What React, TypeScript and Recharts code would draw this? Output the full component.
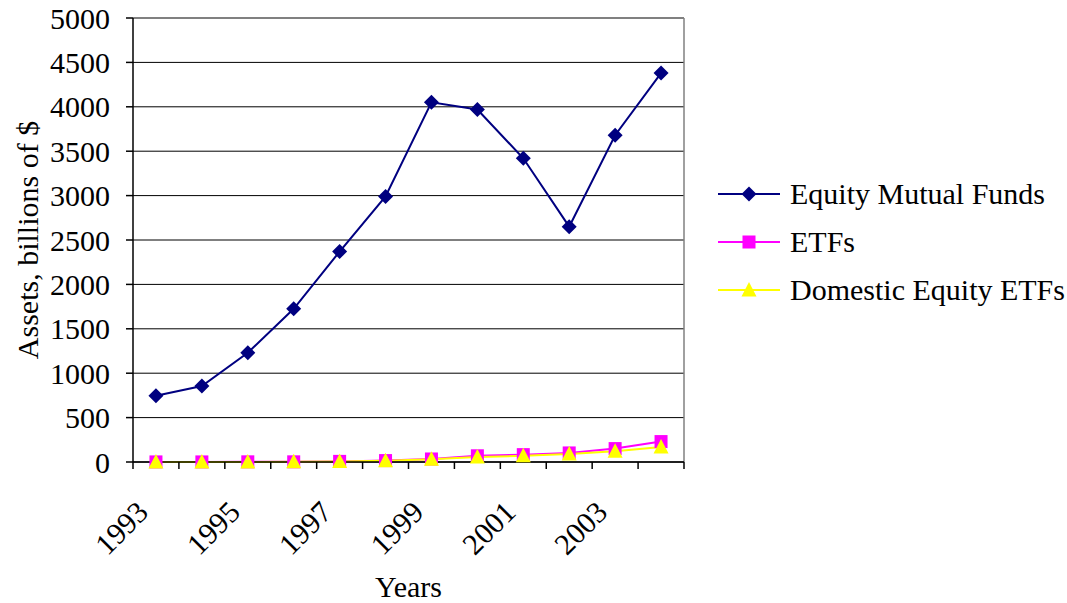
import React from "react";
import {
  LineChart,
  Line,
  XAxis,
  YAxis,
  CartesianGrid,
  ReferenceLine,
} from "recharts";

const years = [1993, 1994, 1995, 1996, 1997, 1998, 1999, 2000, 2001, 2002, 2003, 2004];
const equityMutualFunds = [745, 855, 1230, 1725, 2370, 2990, 4050, 3970, 3420, 2650, 3680, 4380];
const etfs = [1, 1, 2, 2, 7, 16, 34, 70, 83, 102, 151, 230];
const domesticEquityEtfs = [0, 1, 1, 2, 6, 14, 30, 55, 70, 90, 120, 170];
const yTicks = [0, 500, 1000, 1500, 2000, 2500, 3000, 3500, 4000, 4500, 5000];

// boundaries between years get tick marks, centres of odd years get labels
const xTicks: number[] = [];
for (let i = 0; i <= years.length; i++) {
  xTicks.push(years[0] - 0.5 + i);
  if (i < years.length) xTicks.push(years[i]);
}

const data = years.map((year, i) => ({
  year,
  equity: equityMutualFunds[i],
  etfs: etfs[i],
  domestic: domesticEquityEtfs[i],
}));

const FONT = "Liberation Serif, serif";
const FS = 30;

const Diamond = ({ cx, cy, fill }: any) => (
  <polygon
    points={`${cx},${cy - 7.5} ${cx + 7.5},${cy} ${cx},${cy + 7.5} ${cx - 7.5},${cy}`}
    fill={fill}
  />
);
const Square = ({ cx, cy, fill }: any) => (
  <rect x={cx - 6.5} y={cy - 6.5} width={13} height={13} fill={fill} />
);
const Triangle = ({ cx, cy, fill }: any) => (
  <polygon
    points={`${cx},${cy - 8} ${cx + 7.5},${cy + 6.5} ${cx - 7.5},${cy + 6.5}`}
    fill={fill}
  />
);

const SERIES = [
  { key: "equity", name: "Equity Mutual Funds", color: "#000080", Shape: Diamond },
  { key: "etfs", name: "ETFs", color: "#FF00FF", Shape: Square },
  { key: "domestic", name: "Domestic Equity ETFs", color: "#FFFF00", Shape: Triangle },
];

const XTick = ({ x, y, payload }: any) => {
  const v = payload.value;
  if (!Number.isInteger(v)) {
    return <line x1={x} x2={x} y1={y} y2={y + 7} stroke="#000" strokeWidth={1.5} />;
  }
  if (v % 2 === 0) return null;
  const ax = x - 6;
  const ay = y + 52;
  return (
    <text
      x={ax}
      y={ay}
      textAnchor="end"
      transform={`rotate(-45, ${ax}, ${ay})`}
      style={{ fontSize: FS, fontFamily: FONT, fill: "#000" }}
    >
      {v}
    </text>
  );
};

const LegendBox = () => (
  <div
    style={{
      position: "absolute",
      left: 718,
      top: 170,
      fontFamily: FONT,
      fontSize: FS,
      color: "#000",
    }}
  >
    {SERIES.map((s) => (
      <div key={s.key} style={{ display: "flex", alignItems: "center", height: 48 }}>
        <svg width={64} height={20} style={{ marginRight: 8 }}>
          <line x1={0} x2={62} y1={10} y2={10} stroke={s.color} strokeWidth={2} />
          <s.Shape cx={31} cy={10} fill={s.color} />
        </svg>
        <span style={{ whiteSpace: "nowrap" }}>{s.name}</span>
      </div>
    ))}
  </div>
);

export default function App() {
  return (
    <div
      style={{
        position: "absolute",
        left: 0,
        top: 0,
        width: 1067,
        height: 603,
        background: "#fff",
        fontFamily: FONT,
      }}
    >
      <LineChart
        width={1067}
        height={603}
        data={data}
        margin={{ top: 18, right: 383, left: 0, bottom: 0 }}
      >
        <CartesianGrid vertical={false} stroke="#000" strokeWidth={1} />
        <XAxis
          dataKey="year"
          type="number"
          domain={[1992.5, 2004.5]}
          ticks={xTicks}
          interval={0}
          tick={<XTick />}
          tickLine={false}
          tickSize={0}
          tickMargin={0}
          axisLine={{ stroke: "#000", strokeWidth: 1.5 }}
          height={141}
          label={{
            value: "Years",
            position: "insideBottom",
            offset: 6,
            style: { fontFamily: FONT, fontSize: FS, fill: "#000" },
          }}
        />
        <YAxis
          domain={[0, 5000]}
          ticks={yTicks}
          interval={0}
          width={133}
          tickSize={7}
          tickMargin={16}
          tickLine={{ stroke: "#000", strokeWidth: 1.5 }}
          axisLine={{ stroke: "#000", strokeWidth: 1.5 }}
          tick={{ fontFamily: FONT, fontSize: FS, fill: "#000" }}
          label={{
            value: "Assets, billions of $",
            angle: -90,
            position: "insideLeft",
            offset: 27,
            style: { fontFamily: FONT, fontSize: FS, fill: "#000", textAnchor: "middle" },
          }}
        />
        <ReferenceLine x={2004.5} stroke="#808080" strokeWidth={1.5} />
        <ReferenceLine y={5000} stroke="#808080" strokeWidth={1.5} />
        {SERIES.map((s) => (
          <Line
            key={s.key}
            dataKey={s.key}
            name={s.name}
            stroke={s.color}
            strokeWidth={2}
            isAnimationActive={false}
            dot={(props: any) => (
              <s.Shape key={`${s.key}-${props.index}`} cx={props.cx} cy={props.cy} fill={s.color} />
            )}
            activeDot={false}
          />
        ))}
      </LineChart>
      <LegendBox />
    </div>
  );
}
